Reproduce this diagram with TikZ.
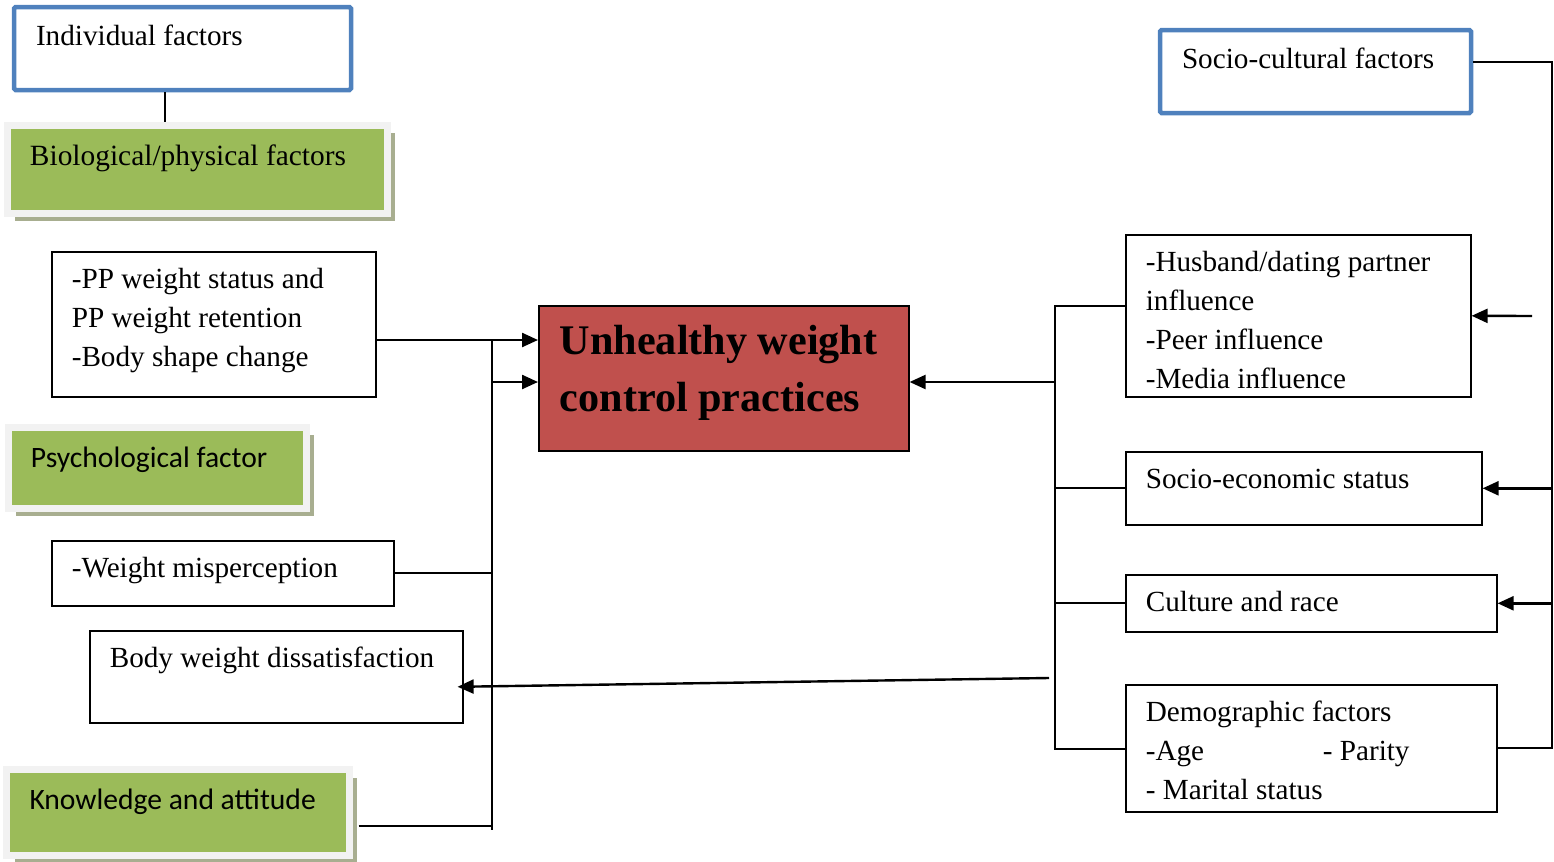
\documentclass[tikz,border=0pt]{standalone}
\usepackage{fontspec}
\setmainfont{Liberation Serif}
\newfontfamily\calibfont{Carlito}
\usetikzlibrary{arrows.meta,shadows}
\definecolor{frameblue}{HTML}{4F81BD}
\definecolor{leafgreen}{HTML}{9BBB59}
\definecolor{paleframe}{HTML}{F2F2F2}
\definecolor{shadowgrey}{HTML}{A8AE90}
\definecolor{brickred}{HTML}{C0504D}
\newcommand{\boxtxt}[3]{\parbox[t][#2][t]{#1}{\strut#3}}
\tikzset{
  plain/.style={draw, line width=0.8pt, anchor=north west, inner xsep=10pt, inner ysep=4.5pt,
    font=\fontsize{14.6}{19.5}\selectfont},
  group/.style={plain, draw=frameblue, line width=2.25pt, rounded corners=0.8pt,
    inner xsep=11pt, inner ysep=5.5pt},
  factor/.style={anchor=north west, fill=leafgreen, draw=paleframe, line width=3.5pt,
    inner xsep=11.5pt, inner ysep=7.4pt,
    drop shadow={shadow xshift=4pt, shadow yshift=-4pt, fill=shadowgrey, opacity=1},
    font=\calibfont\fontsize{14.8}{18}\selectfont},
  outcome/.style={plain, fill=brickred, inner xsep=10.5pt, font=\bfseries\fontsize{21.1}{28.5}\selectfont},
  conn/.style={line width=0.9pt},
  arr/.style={conn, line width=1.2pt, -{Triangle[length=8pt,width=7pt]}}
}
\begin{document}
\begin{tikzpicture}[x=0.5pt, y=-0.5pt]
  \useasboundingbox (0,0) rectangle (1554,862);

  % individual side
  \node[group] (ind) at (11.75,4.75) {\boxtxt{146.5pt}{30.5pt}{Individual factors}};
  \node[factor, font=\fontsize{14.7}{19.5}\selectfont, inner ysep=6.5pt] (bio) at (3.5,121.5)
    {\boxtxt{167pt}{31pt}{Biological/physical factors}};
  \node[plain] (pp) at (51,251) {\boxtxt{142pt}{63.5pt}{-PP weight status and\\PP weight retention\\-Body shape change}};
  \node[factor] (psy) at (4.5,423.5) {\boxtxt{126pt}{25.7pt}{Psychological factor}};
  \node[plain] (wm) at (51,540) {\boxtxt{151pt}{23.5pt}{-Weight misperception}};
  \node[plain] (bwd) at (89,630) {\boxtxt{166.5pt}{37pt}{Body weight dissatisfaction}};
  \node[factor] (kno) at (3,766) {\boxtxt{148.25pt}{27.95pt}{Knowledge and attitude}};

  \node[outcome] (ucp) at (538,305) {\boxtxt{164pt}{63.5pt}{Unhealthy weight\\control practices}};

  % socio-cultural side
  \node[group] (soc) at (1157.75,27.75) {\boxtxt{133.5pt}{30.5pt}{Socio-cultural factors}};
  \node[plain] (hus) at (1125,234) {\boxtxt{152.5pt}{72pt}{-Husband/dating partner\\influence\\-Peer influence\\-Media influence}};
  \node[plain] (ses) at (1125,451) {\boxtxt{158pt}{27.5pt}{Socio-economic status}};
  \node[plain] (cr) at (1125,574) {\boxtxt{165.5pt}{19.5pt}{Culture and race}};
  \node[plain] (dem) at (1125,684) {\boxtxt{165.5pt}{54.5pt}{Demographic factors\\\makebox[88.5pt][l]{-Age}- Parity\\- Marital status}};

  \coordinate (lbtop) at (492,340);
  \coordinate (lbbot) at (492,830);
  \coordinate (mid) at (1055,382);
  \coordinate (rbtop) at (1055,306);
  \coordinate (rbbot) at (1055,749);
  \coordinate (rr) at (1552,62);
  \coordinate (husarr) at (1532,316);
  \coordinate (bwdsrc) at (1049,678);

  \draw[conn] ([xshift=-8.75pt]ind.south) -- ([xshift=-8.75pt]ind.south |- bio.north);
  \draw[conn] (lbtop) -- (lbbot);
  \draw[arr] (pp.east |- lbtop) -- (ucp.west |- lbtop);
  \draw[arr] (lbtop |- mid) -- (ucp.west |- mid);
  \draw[conn] (wm.east) -- (wm.east -| lbtop);
  \draw[conn] ([xshift=3pt,yshift=-7pt]kno.east) coordinate (k) -- (k -| lbbot);
  \draw[arr] (bwdsrc) -- ([xshift=-3pt,yshift=-5pt]bwd.east);

  \draw[arr] (mid) -- (ucp.east |- mid);
  \draw[conn] (hus.west |- rbtop) -- (rbtop) -- (rbbot) -- (dem.west |- rbbot);
  \draw[conn] (ses.west -| rbtop) -- (ses.west);
  \draw[conn] (cr.west -| rbtop) -- (cr.west);
  \draw[conn] (soc.east |- rr) -- (rr) -- (rr |- dem.east) -- (dem.east);
  \draw[arr] (husarr) -- (hus.east);
  \draw[arr] (rr |- ses.east) -- (ses.east);
  \draw[arr] (rr |- cr.east) -- (cr.east);
\end{tikzpicture}
\end{document}
